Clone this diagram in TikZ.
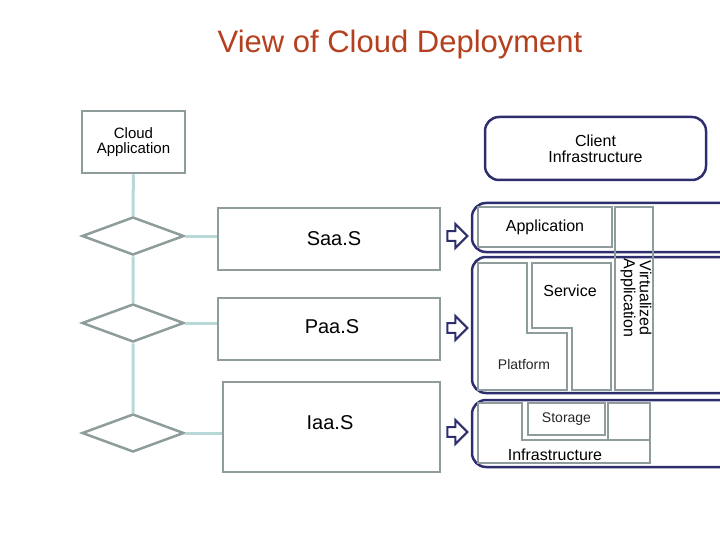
\documentclass[tikz,border=0pt]{standalone}
\usepackage{fontspec}
\setmainfont{Liberation Sans}
\usetikzlibrary{shapes.geometric,shapes.arrows}
\definecolor{titlered}{HTML}{B5401F}
\definecolor{boxgray}{HTML}{8E9C9C}
\definecolor{linkblue}{HTML}{B8D8D8}
\definecolor{navy}{HTML}{2E2E6E}
\newcommand{\fs}[1]{\fontsize{#1}{#1}\selectfont}

\begin{document}
\begin{tikzpicture}[x=1pt,y=-1pt,
                    box/.style={draw=boxgray,line width=2.5pt,rectangle,inner sep=0pt},
                    layer/.style={draw=boxgray,line width=2.5pt},
                    choice/.style={draw=boxgray,line width=2.5pt,diamond,aspect=2.7,
                                   minimum width=102pt,minimum height=38pt,inner sep=0pt},
                    group/.style={draw=navy,line width=2.5pt,rounded corners=14pt},
                    push/.style={draw=navy,line width=2pt,fill=white,single arrow,
                                 minimum height=20pt,minimum width=24pt,
                                 single arrow head extend=3pt,inner sep=1pt},
                    link/.style={draw=linkblue,line width=3pt}]
  \useasboundingbox (0,0) rectangle (720,540);

  \node[text=titlered,font=\fs{31}] (title) at (400,44) {View of Cloud Deployment};

  % left column
  \node[box,minimum width=103pt,minimum height=62pt,align=center,font=\fs{15}] (cloud) at (133.5,142) {Cloud\\Application};
  \node[choice] (d1) at (133,236) {};
  \node[choice] (d2) at (133,323) {};
  \node[choice] (d3) at (133,433) {};
  \node[box,minimum width=222pt,minimum height=62pt,font=\fs{20}] (saas) at (329,239) {};
  \node[font=\fs{20}] (saaslbl) at (334,239) {Saa.S};
  \node[box,minimum width=222pt,minimum height=62pt] (paas) at (329,329) {};
  \node[font=\fs{20}] (paaslbl) at (332,327) {Paa.S};
  \node[box,minimum width=217pt,minimum height=90pt] (iaas) at (331.5,427) {};
  \node[font=\fs{20}] (iaaslbl) at (330,423) {Iaa.S};

  \draw[link] (cloud) -- (d1) -- (d2) -- (d3);
  \draw[link] (d1.east) -- (d1.east -| saas.west);
  \draw[link] (d2.east) -- (d2.east -| paas.west);
  \draw[link] (d3.east) -- (d3.east -| iaas.west);

  \node[push] (a1) at (455,236) {};
  \node[push] (a2) at (455,328) {};
  \node[push] (a3) at (455,432) {};

  % client side
  \node[draw=navy,line width=2.5pt,rounded corners=14pt,minimum width=221pt,minimum height=63pt,
        align=center,font=\fs{16}] (client) at (595.5,148.5) {Client\\Infrastructure};
  \draw[group] (722,203) -- (472,203) -- (472,252) -- (722,252);
  \draw[group] (722,257) -- (472,257) -- (472,393) -- (722,393);
  \draw[group] (722,400) -- (472,400) -- (472,467) -- (722,467);

  \node[box,minimum width=134pt,minimum height=40pt,font=\fs{16}] (app) at (545,227) {Application};
  \node[box,minimum width=38pt,minimum height=183pt] (virt) at (634,298.5) {};
  \node[rotate=-90,align=center,font=\fs{16}] (virtlbl) at (636,298) {Virtualized\\Application};
  \draw[layer] (478,263) -- (527,263) -- (527,333) -- (567,333) -- (567,390) -- (478,390) -- cycle;
  \draw[layer] (532,263) -- (611,263) -- (611,390) -- (572,390) -- (572,328) -- (532,328) -- cycle;
  \node[font=\fs{16}] (service) at (570,291) {Service};
  \node[font=\fs{14},text=black!85] (platform) at (524,364) {Platform};
  \node[box,minimum width=77pt,minimum height=32pt,font=\fs{14},text=black!85] (storage) at (566.5,419) {Storage};
  \node[box,minimum width=42pt,minimum height=37pt] (spare) at (629,421.5) {};
  \draw[layer] (478,403) -- (522,403) -- (522,440) -- (650,440) -- (650,463) -- (478,463) -- cycle;
  \node[font=\fs{16}] (infra) at (555,455) {Infrastructure};
\end{tikzpicture}
\end{document}
